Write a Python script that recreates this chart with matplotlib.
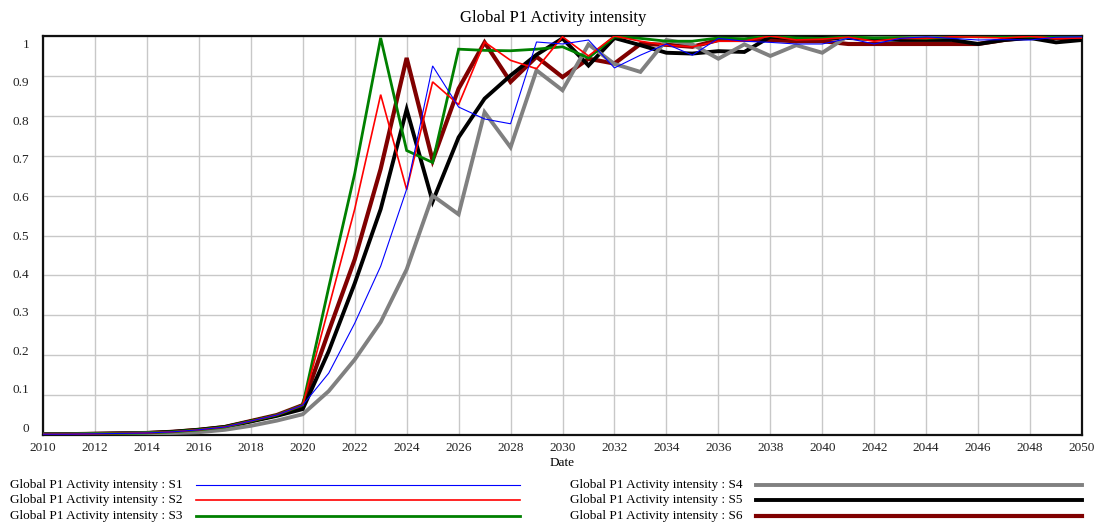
import numpy as np
import matplotlib
matplotlib.use("Agg")
import matplotlib.pyplot as plt
from matplotlib.lines import Line2D
from matplotlib.transforms import ScaledTranslation

plt.rcParams['font.family'] = ['Liberation Serif', 'DejaVu Serif']

years = list(range(2010, 2051))

# values, one per year 2010..2050
s1 = [0.002, 0.002, 0.003, 0.004, 0.005, 0.008, 0.013, 0.020, 0.035, 0.050,
      0.075, 0.155, 0.280, 0.423, 0.616, 0.925, 0.822, 0.792, 0.780, 0.985,
      0.980, 0.990, 0.920, 0.952, 0.980, 0.952, 0.994, 0.987, 0.984, 0.980,
      0.980, 0.994, 0.980, 0.994, 0.998, 0.994, 0.990, 0.991, 0.990, 0.997,
      0.998]
s2 = [0.002, 0.002, 0.003, 0.004, 0.005, 0.008, 0.013, 0.020, 0.035, 0.050,
      0.075, 0.320, 0.566, 0.853, 0.615, 0.885, 0.828, 0.985, 0.939, 0.918,
      0.998, 0.950, 1.000, 0.987, 0.977, 0.973, 0.987, 0.987, 1.000, 0.990,
      0.992, 0.997, 0.987, 0.994, 0.994, 0.998, 0.997, 0.995, 0.999, 0.994,
      0.995]
s3 = [0.002, 0.002, 0.003, 0.004, 0.005, 0.008, 0.013, 0.020, 0.035, 0.050,
      0.075, 0.370, 0.655, 0.995, 0.713, 0.683, 0.967, 0.964, 0.963, 0.967,
      0.973, 0.945, 0.998, 0.994, 0.987, 0.987, 0.995, 0.993, 1.000, 0.995,
      0.994, 0.998, 0.995, 0.996, 0.994, 0.997, 1.000, 0.999, 0.998, 0.999,
      1.000]
s4 = [0.001, 0.001, 0.002, 0.003, 0.004, 0.005, 0.007, 0.013, 0.023, 0.036,
      0.052, 0.110, 0.189, 0.283, 0.415, 0.600, 0.553, 0.809, 0.721, 0.914,
      0.864, 0.979, 0.930, 0.910, 0.990, 0.979, 0.943, 0.979, 0.950, 0.977,
      0.958, 1.000, 0.999, 1.000, 0.999, 1.000, 0.999, 1.000, 1.000, 0.999,
      1.000]
s5 = [0.002, 0.002, 0.003, 0.004, 0.005, 0.008, 0.013, 0.020, 0.034, 0.048,
      0.065, 0.210, 0.380, 0.566, 0.816, 0.585, 0.746, 0.843, 0.901, 0.953,
      0.994, 0.926, 0.995, 0.977, 0.958, 0.956, 0.962, 0.960, 0.998, 0.994,
      0.995, 0.995, 0.992, 0.990, 0.990, 0.990, 0.980, 0.990, 0.995, 0.984,
      0.990]
s6 = [0.002, 0.002, 0.003, 0.004, 0.005, 0.008, 0.013, 0.020, 0.035, 0.050,
      0.075, 0.260, 0.440, 0.667, 0.945, 0.688, 0.868, 0.984, 0.885, 0.948,
      0.897, 0.943, 0.931, 0.980, 0.978, 0.973, 0.990, 0.990, 0.990, 0.987,
      0.987, 0.980, 0.980, 0.980, 0.980, 0.980, 0.980, 0.990, 0.997, 0.995,
      0.995]

series = [s1, s2, s3, s4, s5, s6]
labels = ["Global P1 Activity intensity : S%d" % i for i in range(1, 7)]
colors = ['#0000ff', '#ff0000', '#008000', '#808080', '#000000', '#800000']
widths = [0.8, 1.2, 2.0, 2.8, 2.8, 3.0]

W, H = 1098, 523
fig = plt.figure(figsize=(W / 100, H / 100), dpi=100)
ax = fig.add_axes([43 / W, 1 - 435 / H, (1082 - 43) / W, (435 - 36) / H])

# later series underneath, S1 on top
for i in reversed(range(6)):
    ax.plot(years, series[i], color=colors[i], lw=widths[i],
            solid_joinstyle='miter', zorder=3 + (6 - i) * 0.1)

ax.set_xlim(2010, 2050)
ax.set_ylim(0, 1)
ax.set_xticks(range(2010, 2051, 2))
yt = np.round(np.arange(0, 1.01, 0.1), 1)
ax.set_yticks(yt)
ax.set_yticklabels(['0'] + ['%.1f' % v for v in yt[1:-1]] + ['1'])
ax.tick_params(length=0, labelsize=9.5, colors='#222222')
ax.tick_params(axis='x', pad=5)
ax.tick_params(axis='y', pad=10)
ax.grid(True, color='#c8c8c8', lw=1.0)
ax.set_axisbelow(True)
for sp in ax.spines.values():
    sp.set_linewidth(1.6)
    sp.set_color('#111111')

# Vensim puts its y labels a bit inside the range
for v, lab in zip(yt, ax.get_yticklabels()):
    d = 7.5 - 15.5 * (1 - v)
    lab.set_transform(lab.get_transform() + ScaledTranslation(0, -d / 100, fig.dpi_scale_trans))

fig.text(553 / W, 1 - 18 / H, "Global P1 Activity intensity", ha='center', va='center', fontsize=12)
fig.text(562 / W, 1 - 463 / H, "Date", ha='center', va='center', fontsize=9.5)

# legend in two columns
rows = [485, 500, 516]
for i in range(6):
    col = i // 3
    y = 1 - rows[i % 3] / H
    tx = (10 if col == 0 else 570) / W
    x0, x1 = (196, 520) if col == 0 else (756, 1082)
    fig.text(tx, y, labels[i], ha='left', va='center', fontsize=9.5)
    fig.add_artist(Line2D([x0 / W, x1 / W], [y, y], color=colors[i], lw=widths[i],
                          transform=fig.transFigure))

fig.savefig("out.png", dpi=100)
